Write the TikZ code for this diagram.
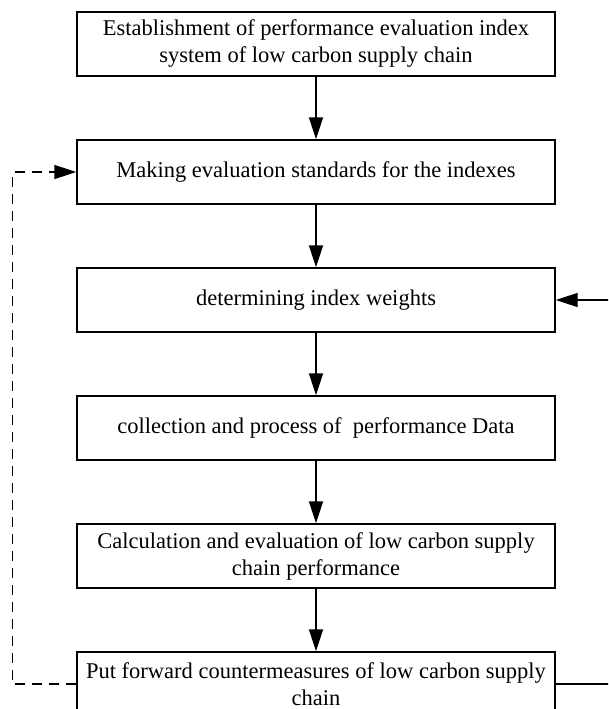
\documentclass[tikz,border=0pt]{standalone}
\usepackage{fontspec}
\setmainfont{Liberation Serif}
\usetikzlibrary{arrows.meta}
\begin{document}
\begin{tikzpicture}[x=1pt,y=-1pt,
  box/.style={draw, line width=1.4pt, minimum width=478pt, minimum height=64pt,
    inner sep=0pt, align=center, font=\fontsize{22.5}{27}\selectfont},
  arr/.style={line width=1.4pt, -{Triangle[length=22pt,width=14pt]}},
  dashline/.style={dash pattern=on 10pt off 7pt}]
\useasboundingbox (0,0) rectangle (608,709);
\clip (0,0) rectangle (608,709);
\node[box] (b1) at (316,44) {Establishment of performance evaluation index\\system of low carbon supply chain};
\node[box] (b2) at (316,172) {Making evaluation standards for the indexes};
\node[box] (b3) at (316,300) {determining index weights};
\node[box] (b4) at (316,428) {collection and process of\ \ performance Data};
\node[box] (b5) at (316,556) {Calculation and evaluation of low carbon supply\\chain performance};
\node[box] (b6) at (316,684) {Put forward countermeasures of low carbon supply\\chain};
\draw[arr] (b1) -- (b2);
\draw[arr] (b2) -- (b3);
\draw[arr] (b3) -- (b4);
\draw[arr] (b4) -- (b5);
\draw[arr] (b5) -- (b6);
\coordinate (dl) at (12.7,684);
\draw[arr, dashline] (b6.west) -- (dl) |- (b2.west);
\coordinate (rb) at (618,684);
\draw[arr] (b6.east) -- (rb) |- (b3.east);
\end{tikzpicture}
\end{document}
